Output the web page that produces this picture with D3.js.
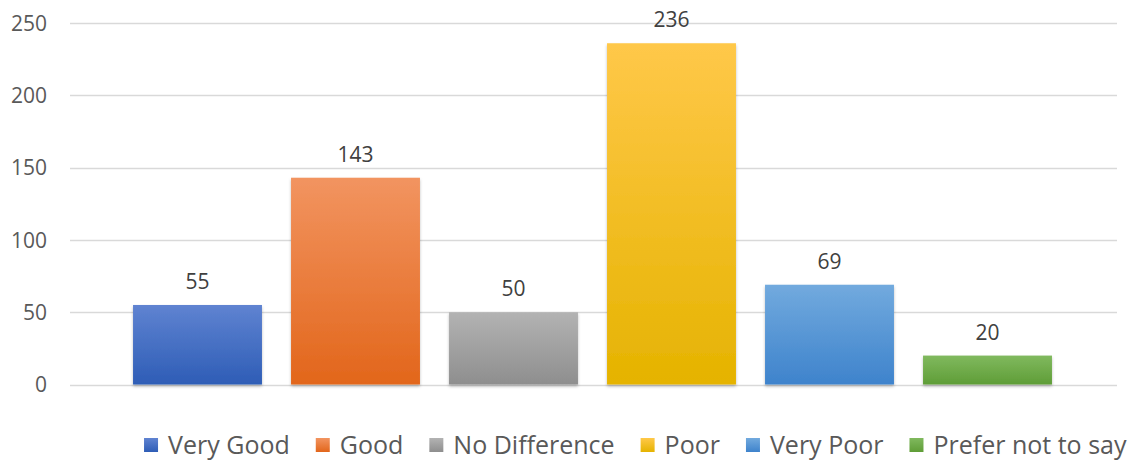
<!DOCTYPE html>
<html>
<head>
<meta charset="utf-8">
<script src="https://cdn.jsdelivr.net/npm/d3@7"></script>
<style>
  html, body { margin: 0; padding: 0; background: #fff; }
  svg { display: block; font-family: "Open Sans", "Noto Sans", sans-serif; }
</style>
</head>
<body>
<svg id="chart" width="1141" height="466"></svg>
<script>
// Survey responses per rating
const categories = ["Very Good", "Good", "No Difference", "Poor", "Very Poor", "Prefer not to say"];
const counts = [55, 143, 50, 236, 69, 20];
const yTicks = [0, 50, 100, 150, 200, 250];
// Gradient stops (top, bottom) per category
const colorTop = ["#5f83d1", "#f29460", "#b3b3b3", "#ffc849", "#72aade", "#80b95e"];
const colorBottom = ["#2e5db6", "#e2661b", "#8e8e8e", "#e5b300", "#3e83cc", "#5f9d37"];

const svg = d3.select("#chart");

const gridLeft = 70, gridRight = 1117;
const y = d3.scaleLinear().domain([0, 250]).range([384.5, 23]);
const x = d3.scaleBand().domain(categories).range([118.5, 1066.5]).paddingInner(0.184).paddingOuter(0.092);

const defs = svg.append("defs");
categories.forEach((c, i) => {
  const g = defs.append("linearGradient").attr("id", "grad" + i)
    .attr("x1", 0).attr("y1", 0).attr("x2", 0).attr("y2", 1);
  g.append("stop").attr("offset", "0%").attr("stop-color", colorTop[i]);
  g.append("stop").attr("offset", "100%").attr("stop-color", colorBottom[i]);
});
const f = defs.append("filter").attr("id", "shadow").attr("x", "-10%").attr("y", "-10%").attr("width", "120%").attr("height", "130%");
f.append("feDropShadow").attr("dx", 0).attr("dy", 2).attr("stdDeviation", 1.6).attr("flood-color", "#000").attr("flood-opacity", 0.25);

// Gridlines
svg.append("g").selectAll("line").data(yTicks).join("line")
  .attr("x1", gridLeft).attr("x2", gridRight)
  .attr("y1", d => Math.round(y(d)) + 0.5).attr("y2", d => Math.round(y(d)) + 0.5)
  .attr("stroke", "#d9d9d9").attr("stroke-width", 1.3);

// Y axis labels
const yAxis = d3.axisLeft(y).tickValues(yTicks).tickSize(0).tickPadding(0);
const ya = svg.append("g").attr("transform", "translate(47,0)").call(yAxis);
ya.select(".domain").remove();
ya.attr("font-size", null).attr("font-family", null);
ya.selectAll("text").style("font-size", "21px").attr("fill", "#595959")
  .style("font-family", "'Open Sans', sans-serif").attr("dy", "0.35em");

// Bars
svg.append("g").selectAll("rect").data(counts).join("rect")
  .attr("x", (d, i) => x(categories[i]))
  .attr("y", d => y(d))
  .attr("width", x.bandwidth())
  .attr("height", d => y(0) - y(d))
  .attr("fill", (d, i) => `url(#grad${i})`)
  .attr("filter", "url(#shadow)");

// Value labels
svg.append("g").selectAll("text").data(counts).join("text")
  .attr("x", (d, i) => x(categories[i]) + x.bandwidth() / 2)
  .attr("y", d => y(d) - 16)
  .attr("text-anchor", "middle")
  .style("font-size", "21px").attr("fill", "#404040")
  .text(d => d);

// Legend
const legend = svg.append("g");
const sq = 14, gapText = 10, gapItem = 26, legendY = 445;
const items = legend.selectAll("g").data(categories).join("g");
items.append("rect").attr("width", sq).attr("height", sq).attr("y", -sq / 2)
  .attr("fill", (d, i) => `url(#grad${i})`);
items.append("text").attr("x", sq + gapText).attr("dy", "0.35em")
  .style("font-size", "25px").attr("fill", "#595959").text(d => d);
let widths = [];
items.each(function () { widths.push(this.getBBox().width); });
const total = d3.sum(widths) + gapItem * (widths.length - 1);
let cx = 635.5 - total / 2;
items.each(function (d, i) {
  d3.select(this).attr("transform", `translate(${cx},${legendY})`);
  cx += widths[i] + gapItem;
});
</script>
</body>
</html>
